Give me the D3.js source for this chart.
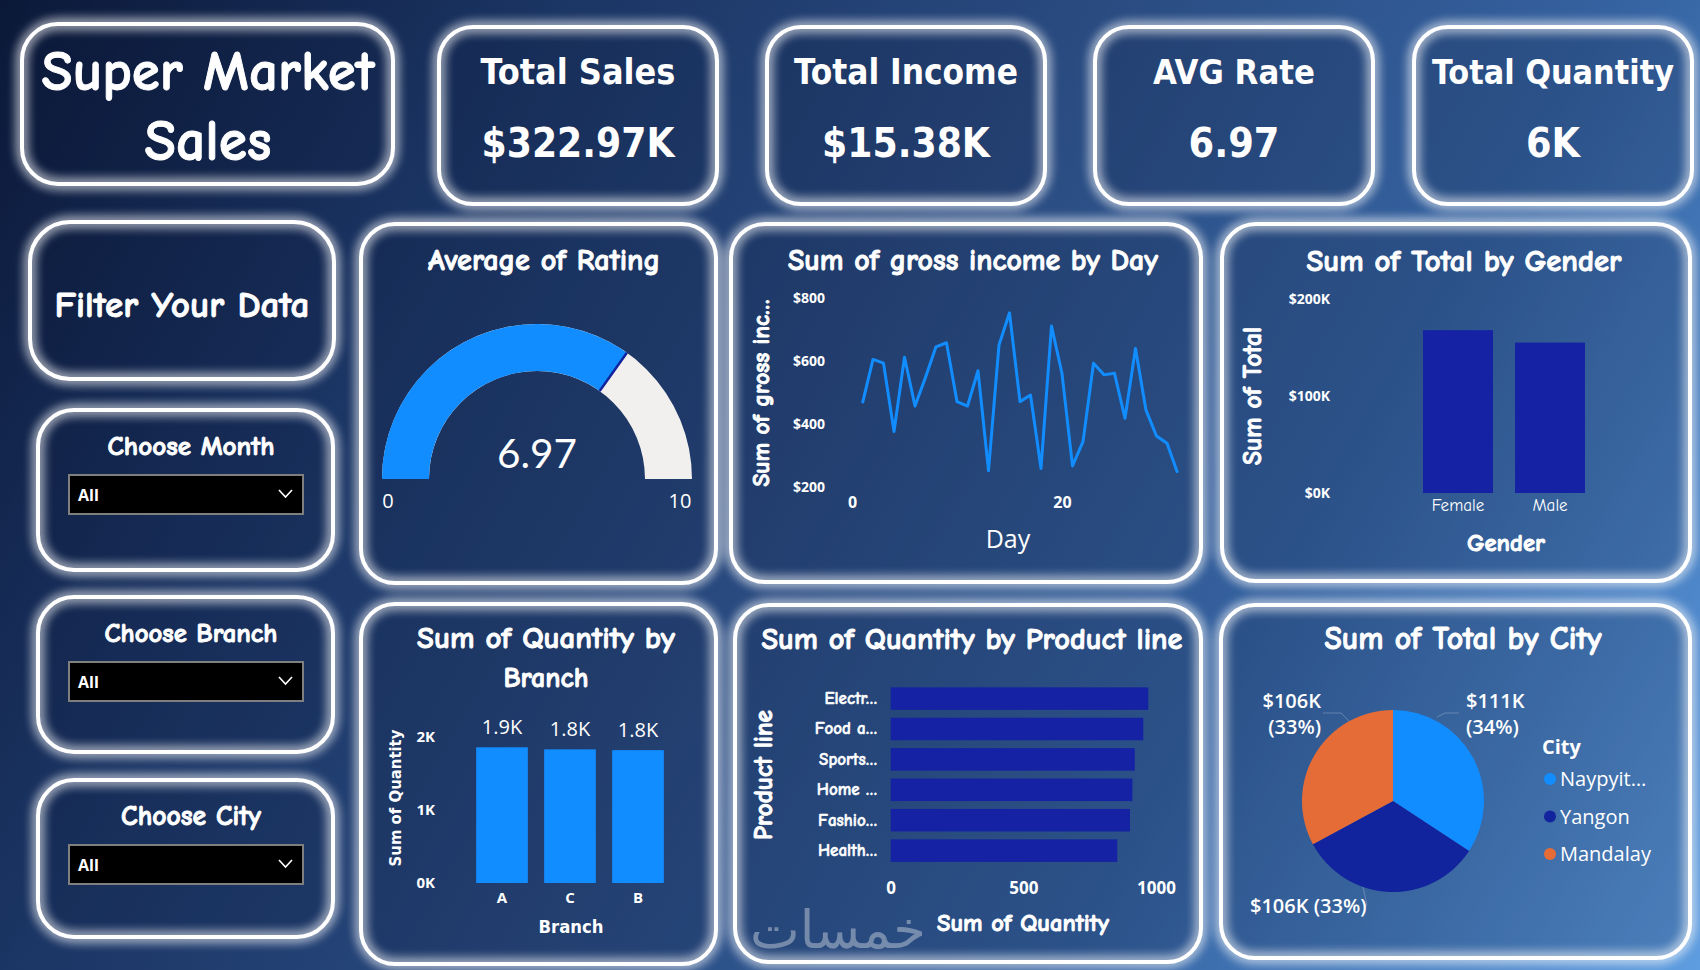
<!DOCTYPE html>
<html>
<head>
<meta charset="utf-8">
<script src="https://cdn.jsdelivr.net/npm/d3@7"></script>
<style>
  body { margin: 0; background: #0c1a3d; overflow: hidden; }
  svg { display: block; }
</style>
</head>
<body>
<script>
// ---- data ----
const kpiLabels = ["Total Sales", "Total Income", "AVG Rate", "Total Quantity"];
const kpiValues = ["$322.97K", "$15.38K", "6.97", "6K"];

const filterLabels = ["Choose Month", "Choose Branch", "Choose City"];
const filterValues = ["All", "All", "All"];

const avgRating = 6.97;
const ratingRange = [0, 10];

const days = [1, 2, 3, 4, 5, 6, 7, 8, 9, 10, 11, 12, 13, 14, 15, 16,
              17, 18, 19, 20, 21, 22, 23, 24, 25, 26, 27, 28, 29, 30, 31];
const grossIncome = [466, 605, 593, 376, 612, 457, 548, 645, 658, 471, 457, 569, 252, 651, 753, 471,
                     492, 259, 711, 560, 267, 344, 593, 556, 561, 418, 640, 444, 362, 339, 245];
const incomeTicks = [200, 400, 600, 800];
const dayTicks = [0, 20];

const genders = ["Female", "Male"];
const genderTotals = [167882, 155084];
const genderTicks = [0, 100000, 200000];

const branches = ["A", "C", "B"];
const branchQty = [1859, 1831, 1820];
const branchTicks = [0, 1000, 2000];

const productLines = ["Electronic accessories", "Food and beverages", "Sports and travel",
                      "Home and lifestyle", "Fashion accessories", "Health and beauty"];
const productLabels = ["Electr…", "Food a…", "Sports…", "Home …", "Fashio…", "Health…"];
const productQty = [971, 952, 920, 911, 902, 854];
const productTicks = [0, 500, 1000];

const cities = ["Naypyitaw", "Yangon", "Mandalay"];
const cityLabels = ["Naypyit…", "Yangon", "Mandalay"];
const cityTotals = [110569, 106200, 106198];

// ---- look ----
const W = 1700, H = 970;
const COMIC = "'Comic Sans MS','Comic Neue','Noto Sans',sans-serif";
const NARROW = "'Liberation Sans Narrow','DejaVu Sans Condensed',sans-serif";
const SEGOE = "'Open Sans','Noto Sans',sans-serif";
const LIGHT = "Lato,'Open Sans',sans-serif";
const BLUE = "#118DFF", NAVY = "#12239E", ORANGE = "#E66C37";

const svg = d3.select("body").append("svg")
    .attr("width", W)
    .attr("height", H);

const defs = svg.append("defs");
const bg = defs.append("linearGradient")
    .attr("id", "bg")
    .attr("gradientUnits", "userSpaceOnUse")
    .attr("x1", 0).attr("y1", 0).attr("x2", W).attr("y2", H);
[[0, "#0b1838"], [0.25, "#1b3564"], [0.5, "#2a4c82"], [0.72, "#3562a0"], [0.87, "#4980c2"], [1, "#5e9de0"]]
    .forEach(s => bg.append("stop").attr("offset", s[0]).attr("stop-color", s[1]));

const glow = defs.append("filter")
    .attr("id", "glow")
    .attr("x", "-20%").attr("y", "-20%").attr("width", "140%").attr("height", "140%");
glow.append("feGaussianBlur").attr("in", "SourceGraphic").attr("stdDeviation", 6).attr("result", "b");
const merge = glow.append("feMerge");
merge.append("feMergeNode").attr("in", "b");
merge.append("feMergeNode").attr("in", "b");
merge.append("feMergeNode").attr("in", "SourceGraphic");

svg.append("rect").attr("width", W).attr("height", H).attr("fill", "url(#bg)");

// rounded card with a white glowing border
function panel(x, y, w, h, r) {
    svg.append("rect")
        .attr("x", x).attr("y", y).attr("width", w).attr("height", h)
        .attr("rx", r)
        .attr("fill", "rgba(8,20,52,0.2)");
    svg.append("rect")
        .attr("x", x).attr("y", y).attr("width", w).attr("height", h)
        .attr("rx", r)
        .attr("fill", "none")
        .attr("stroke", "#fff")
        .attr("stroke-width", 4)
        .attr("filter", "url(#glow)");
}

// scale a text's font size so it spans the wanted width
function fit(t, width) {
    const w = t.node().getComputedTextLength();
    if (w > 0) t.attr("font-size", parseFloat(t.attr("font-size")) * width / w);
    return t;
}

function label(g, x, y, str, size, family, weight, anchor) {
    const t = g.append("text")
        .attr("x", x).attr("y", y)
        .attr("font-size", size)
        .attr("font-family", family)
        .attr("font-weight", weight || "normal")
        .attr("text-anchor", anchor || "middle")
        .attr("fill", "#fff")
        .text(str);
    // the comic face has no heavy cut here, thicken it a little
    if (family === COMIC && weight === "bold") {
        t.attr("stroke", "#fff").attr("stroke-width", 0.9).attr("paint-order", "stroke");
    }
    return t;
}

// ---- header ----
panel(22, 24, 371, 160, 36);
fit(label(svg, 208, 90, "Super Market", 50, COMIC, "bold"), 333);
fit(label(svg, 208, 160, "Sales", 50, COMIC, "bold"), 127);

const kpiX = [439, 767, 1095, 1414];
const kpiTitleW = [195, 224, 162, 242];
const kpiValueW = [193, 168, 91, 54];
kpiLabels.forEach((k, i) => {
    panel(kpiX[i], 27, 278, 177, 34);
    const cx = kpiX[i] + 139;
    fit(label(svg, cx, 84, k, 44, NARROW, "bold"), kpiTitleW[i]);
    const v = label(svg, cx, 157, kpiValues[i], 50, NARROW, "bold");
    fit(v, kpiValueW[i]);
    if (parseFloat(v.attr("font-size")) > 56) v.attr("font-size", 52);
});

// ---- filters ----
panel(30, 222, 304, 157, 40);
fit(label(svg, 182, 317, "Filter Your Data", 32, COMIC, "bold"), 255);

const filterY = [410, 597, 780];
const filterH = [160, 155, 157];
const filterTitleW = [167, 173, 140];
filterLabels.forEach((f, i) => {
    const y0 = filterY[i];
    panel(38, y0, 295, filterH[i], 36);
    fit(label(svg, 191, y0 + 45, f, 22, COMIC, "bold"), filterTitleW[i]);
    const dy = y0 + 65;
    svg.append("rect")
        .attr("x", 69).attr("y", dy).attr("width", 234).attr("height", 39)
        .attr("fill", "#000").attr("stroke", "#7f7f7f").attr("stroke-width", 2);
    label(svg, 78, dy + 26, filterValues[i], 16, SEGOE, "bold", "start");
    svg.append("path")
        .attr("d", `M279,${dy + 15} L285.5,${dy + 22} L292,${dy + 15}`)
        .attr("fill", "none").attr("stroke", "#fff").attr("stroke-width", 1.6);
});

// ---- gauge: Average of Rating ----
panel(361, 224, 355, 359, 34);
fit(label(svg, 544, 270, "Average of Rating", 24, COMIC, "bold"), 232);
{
    const g = svg.append("g").attr("transform", "translate(537,479)");
    const ang = d3.scaleLinear().domain(ratingRange).range([-Math.PI / 2, Math.PI / 2]);
    const arc = d3.arc().innerRadius(108).outerRadius(155);
    g.append("path")
        .attr("d", arc({ startAngle: ang(ratingRange[0]), endAngle: ang(ratingRange[1]) }))
        .attr("fill", "#F2F0EE");
    g.append("path")
        .attr("d", arc({ startAngle: ang(ratingRange[0]), endAngle: ang(avgRating) }))
        .attr("fill", BLUE);
    const a = ang(avgRating);
    g.append("line")
        .attr("x1", 108 * Math.sin(a)).attr("y1", -108 * Math.cos(a))
        .attr("x2", 155 * Math.sin(a)).attr("y2", -155 * Math.cos(a))
        .attr("stroke", NAVY).attr("stroke-width", 2.5);
    fit(label(g, 0, -11, d3.format(".2f")(avgRating), 48, LIGHT, 400), 80);
    label(g, -149, 29, String(ratingRange[0]), 20, SEGOE);
    label(g, 143, 29, String(ratingRange[1]), 20, SEGOE);
}

// ---- line: Sum of gross income by Day ----
panel(731, 224, 470, 358, 34);
fit(label(svg, 973, 270, "Sum of gross income by Day", 24, COMIC, "bold"), 370);
{
    const x = d3.scaleLinear().domain([0, 31]).range([852, 1177.5]);
    const y = d3.scaleLinear().domain([200, 800]).range([487, 298]);
    const yAxis = svg.append("g")
        .attr("transform", "translate(852,0)")
        .call(d3.axisLeft(y).tickValues(incomeTicks).tickSize(0).tickPadding(27)
            .tickFormat(d => "$" + d));
    const xAxis = svg.append("g")
        .attr("transform", "translate(0,495)")
        .call(d3.axisBottom(x).tickValues(dayTicks).tickSize(0).tickPadding(2));
    [yAxis, xAxis].forEach(ax => {
        ax.select(".domain").remove();
        ax.selectAll("text").attr("fill", "#fff").attr("font-family", SEGOE).attr("font-weight", "bold");
    });
    yAxis.selectAll("text").attr("font-size", 14);
    xAxis.selectAll("text").attr("font-size", 16);
    svg.append("path")
        .datum(days.map((d, i) => [d, grossIncome[i]]))
        .attr("d", d3.line().x(d => x(d[0])).y(d => y(d[1])))
        .attr("fill", "none")
        .attr("stroke", BLUE)
        .attr("stroke-width", 3)
        .attr("stroke-linejoin", "round");
    fit(label(svg, 0, 0, "Sum of gross inc…", 17, COMIC, "bold")
        .attr("transform", "translate(769,393) rotate(-90)"), 187);
    label(svg, 1008, 548, "Day", 25, SEGOE);
}

// ---- column: Sum of Total by Gender ----
panel(1222, 224, 468, 357, 34);
fit(label(svg, 1464, 271, "Sum of Total by Gender", 24, COMIC, "bold"), 315);
{
    const x = d3.scaleBand().domain(genders).range([1412, 1596]).paddingInner(0.24).paddingOuter(0.12);
    const y = d3.scaleLinear().domain([0, 200000]).range([493, 299]);
    svg.selectAll(".gbar").data(genders).enter().append("rect")
        .attr("x", d => x(d))
        .attr("y", (d, i) => y(genderTotals[i]))
        .attr("width", x.bandwidth())
        .attr("height", (d, i) => y(0) - y(genderTotals[i]))
        .attr("fill", "#1522A4");
    const yAxis = svg.append("g")
        .attr("transform", "translate(1330,0)")
        .call(d3.axisLeft(y).tickValues(genderTicks).tickSize(0).tickPadding(0)
            .tickFormat(d => "$" + d / 1000 + "K"));
    yAxis.select(".domain").remove();
    yAxis.selectAll("text").attr("fill", "#fff").attr("font-family", SEGOE)
        .attr("font-weight", "bold").attr("font-size", 14);
    const xAxis = svg.append("g")
        .attr("transform", "translate(0,497)")
        .call(d3.axisBottom(x).tickSize(0).tickPadding(2));
    xAxis.select(".domain").remove();
    xAxis.selectAll("text").attr("fill", "#fff").attr("font-family", COMIC).attr("font-size", 17);
    fit(label(svg, 0, 0, "Sum of Total", 18, COMIC, "bold")
        .attr("transform", "translate(1261,396) rotate(-90)"), 138);
    fit(label(svg, 1506, 551, "Gender", 22, COMIC, "bold"), 78);
}

// ---- column: Sum of Quantity by Branch ----
panel(361, 604, 355, 360, 34);
fit(label(svg, 546, 648, "Sum of Quantity by", 24, COMIC, "bold"), 258);
fit(label(svg, 546, 687, "Branch", 24, COMIC, "bold"), 85);
{
    const x = d3.scaleBand().domain(branches).range([468, 672]).paddingInner(0.24).paddingOuter(0.12);
    const y = d3.scaleLinear().domain([0, 2000]).range([883, 737]);
    svg.selectAll(".bbar").data(branches).enter().append("rect")
        .attr("x", d => x(d))
        .attr("y", (d, i) => y(branchQty[i]))
        .attr("width", x.bandwidth())
        .attr("height", (d, i) => y(0) - y(branchQty[i]))
        .attr("fill", BLUE);
    svg.selectAll(".blab").data(branches).enter().append("text")
        .attr("x", d => x(d) + x.bandwidth() / 2)
        .attr("y", (d, i) => y(branchQty[i]) - 13)
        .attr("text-anchor", "middle")
        .attr("font-family", SEGOE)
        .attr("font-size", 20)
        .attr("fill", "#fff")
        .text((d, i) => d3.format(".1f")(branchQty[i] / 1000) + "K");
    const yAxis = svg.append("g")
        .attr("transform", "translate(435,0)")
        .call(d3.axisLeft(y).tickValues(branchTicks).tickSize(0).tickPadding(0)
            .tickFormat(d => d / 1000 + "K"));
    const xAxis = svg.append("g")
        .attr("transform", "translate(0,890)")
        .call(d3.axisBottom(x).tickSize(0).tickPadding(2));
    [yAxis, xAxis].forEach(ax => {
        ax.select(".domain").remove();
        ax.selectAll("text").attr("fill", "#fff").attr("font-family", SEGOE)
            .attr("font-weight", "bold").attr("font-size", 15);
    });
    fit(label(svg, 0, 0, "Sum of Quantity", 16, NARROW, "bold")
        .attr("transform", "translate(401,798) rotate(-90)"), 137);
    fit(label(svg, 571, 933, "Branch", 20, NARROW, "bold"), 65);
}

// ---- bar: Sum of Quantity by Product line ----
panel(735, 605, 466, 357, 34);
fit(label(svg, 972, 649, "Sum of Quantity by Product line", 24, COMIC, "bold"), 421);
{
    const y = d3.scaleBand().domain(productLines).range([683.4, 865.8]).paddingInner(0.26).paddingOuter(0.13);
    const x = d3.scaleLinear().domain([0, 1000]).range([890.7, 1156]);
    svg.selectAll(".pbar").data(productLines).enter().append("rect")
        .attr("x", x(0))
        .attr("y", d => y(d))
        .attr("width", (d, i) => x(productQty[i]) - x(0))
        .attr("height", y.bandwidth())
        .attr("fill", "#1522A4");
    const yAxis = svg.append("g")
        .attr("transform", "translate(877,0)")
        .call(d3.axisLeft(y).tickSize(0).tickPadding(0)
            .tickFormat((d, i) => productLabels[i]));
    yAxis.select(".domain").remove();
    yAxis.selectAll("text").attr("fill", "#fff").attr("font-family", COMIC)
        .attr("font-weight", "bold").attr("font-size", 17)
        .attr("stroke", "#fff").attr("stroke-width", 0.5);
    const xAxis = svg.append("g")
        .attr("transform", "translate(0,880)")
        .call(d3.axisBottom(x).tickValues(productTicks).tickSize(0).tickPadding(2)
            .tickFormat(d3.format("d")));
    xAxis.select(".domain").remove();
    xAxis.selectAll("text").attr("fill", "#fff").attr("font-family", SEGOE)
        .attr("font-weight", "bold").attr("font-size", 17);
    fit(label(svg, 0, 0, "Product line", 21, COMIC, "bold")
        .attr("transform", "translate(772,775) rotate(-90)"), 130);
    fit(label(svg, 1023, 931, "Sum of Quantity", 21, COMIC, "bold"), 172);
    // site watermark
    fit(label(svg, 838, 948, "خمسات", 56, "'DejaVu Sans','Noto Sans',sans-serif")
        .attr("fill", "#d5dbe4").attr("opacity", 0.45), 176);
}

// ---- pie: Sum of Total by City ----
panel(1221, 605, 469, 353, 34);
fit(label(svg, 1463, 649, "Sum of Total by City", 24, COMIC, "bold"), 277);
{
    const colors = d3.scaleOrdinal().domain(cities).range([BLUE, NAVY, ORANGE]);
    const rows = cities.map((c, i) => ({ city: c, total: cityTotals[i] }));
    const sum = d3.sum(cityTotals);
    const pie = d3.pie().sort(null).value(d => d.total);
    const arc = d3.arc().innerRadius(0).outerRadius(91);
    const g = svg.append("g").attr("transform", "translate(1393,801)");
    const slices = pie(rows);
    g.selectAll("path").data(slices).enter().append("path")
        .attr("d", arc)
        .attr("fill", d => colors(d.data.city));

    const money = d => "$" + Math.round(d.data.total / 1000) + "K";
    const pct = d => "(" + Math.round(d.data.total / sum * 100) + "%)";
    // faint leader lines
    const lead = [[[44, -84], [52, -88], [66, -88]], [[-30, 86], [-26, 104], [-30, 106]], [[-44, -80], [-52, -88], [-70, -88]]];
    lead.forEach(l => g.append("path").attr("d", d3.line()(l))
        .attr("fill", "none").attr("stroke", "#9fb3cf").attr("stroke-opacity", 0.45).attr("stroke-width", 1));

    const lab = (x, y, str, anchor) => label(g, x, y, str, 20, SEGOE, 600, anchor);
    lab(73, -93, money(slices[0]), "start");
    lab(73, -67, pct(slices[0]), "start");
    lab(-72, -93, money(slices[2]), "end");
    lab(-72, -67, pct(slices[2]), "end");
    lab(-143, 112, money(slices[1]) + " " + pct(slices[1]), "start");

    label(svg, 1542, 754, "City", 20, SEGOE, "bold", "start");
    cities.forEach((c, i) => {
        const yy = 779 + i * 37.5;
        svg.append("circle").attr("cx", 1550).attr("cy", yy).attr("r", 6).attr("fill", colors(c));
        label(svg, 1560, yy + 7, cityLabels[i], 20, SEGOE, "normal", "start");
    });
}
</script>
</body>
</html>
